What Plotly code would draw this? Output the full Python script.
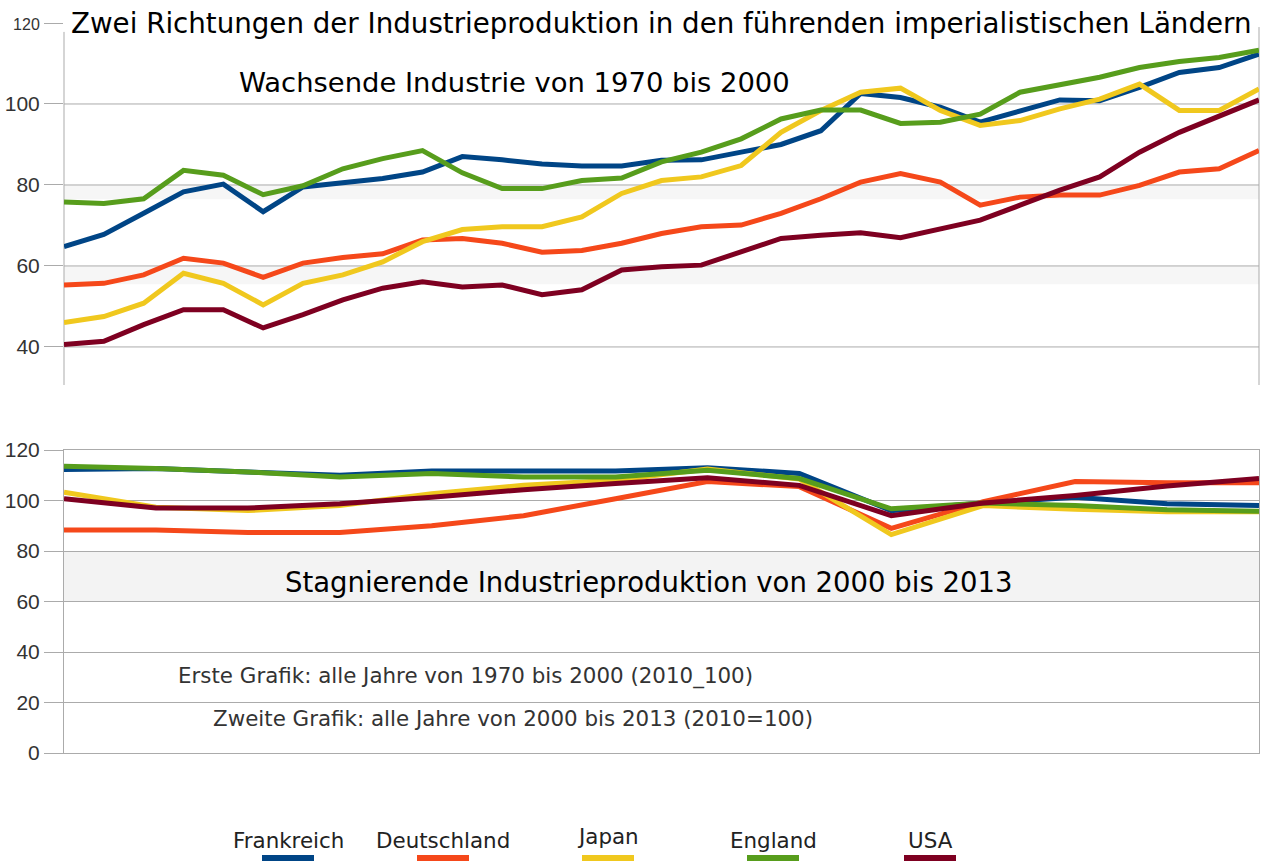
import plotly.graph_objects as go

# ---------------- data ----------------
years_a = list(range(1970, 2001))
years_b = list(range(2000, 2014))

countries = ["Frankreich", "Deutschland", "Japan", "England", "USA"]
colors = ["#004586", "#f5481a", "#f0c81e", "#579d1c", "#7e0021"]

# 1970-2000
frankreich_a = [64.8, 67.8, 73.0, 78.3, 80.2, 73.4, 79.5, 80.7, 81.6, 83.2, 87.0, 86.2, 85.2, 84.7, 84.7,
                86.1, 86.2, 88.1, 90.0, 93.4, 102.6, 101.6, 99.2, 95.5, 98.4, 101.0, 100.8, 104.1, 107.8,
                109.0, 112.3]
deutschland_a = [55.3, 55.7, 57.8, 61.9, 60.7, 57.2, 60.7, 62.1, 63.0, 66.4, 66.8, 65.6, 63.4, 63.8, 65.6,
                 68.0, 69.7, 70.1, 73.0, 76.6, 80.7, 82.8, 80.7, 75.0, 77.0, 77.5, 77.5, 79.9, 83.2,
                 84.0, 88.5]
japan_a = [46.0, 47.5, 50.8, 58.2, 55.7, 50.4, 55.7, 57.8, 61.0, 66.0, 69.0, 69.7, 69.7, 72.1, 77.9,
           81.1, 82.0, 84.8, 93.0, 98.4, 102.9, 103.9, 98.4, 94.7, 95.9, 98.8, 101.2, 104.9, 98.4,
           98.4, 103.7]
england_a = [75.8, 75.4, 76.6, 83.6, 82.4, 77.6, 79.8, 84.0, 86.5, 88.5, 83.0, 79.1, 79.1, 81.1, 81.7,
             85.7, 88.1, 91.4, 96.3, 98.5, 98.5, 95.2, 95.5, 97.5, 102.9, 104.9, 106.6, 109.0, 110.5,
             111.5, 113.3]
usa_a = [40.6, 41.4, 45.5, 49.2, 49.2, 44.7, 48.0, 51.6, 54.5, 56.1, 54.8, 55.3, 52.9, 54.1, 59.0,
         59.8, 60.2, 63.5, 66.8, 67.6, 68.2, 67.0, 69.0, 71.3, 75.0, 78.7, 82.0, 88.1, 93.0,
         97.1, 101.0]

# 2000-2013 (2010=100)
frankreich_b = [112.3, 112.7, 111.3, 110.0, 111.7, 111.7, 111.7, 113.0, 110.7, 96.0, 99.0, 101.3, 98.7, 98.0]
deutschland_b = [88.3, 88.3, 87.3, 87.3, 90.0, 94.0, 100.7, 107.5, 105.5, 89.0, 99.5, 107.5, 107.0, 107.0]
japan_b = [103.3, 97.3, 96.0, 98.0, 102.7, 106.0, 108.0, 112.5, 108.5, 86.5, 98.0, 96.5, 95.5, 95.5]
england_b = [113.6, 112.7, 111.3, 109.3, 110.7, 109.3, 109.3, 112.0, 108.7, 96.7, 99.0, 98.0, 96.3, 95.7]
usa_b = [100.7, 97.0, 97.0, 98.7, 101.3, 104.3, 106.7, 109.0, 106.0, 94.0, 99.0, 102.0, 105.7, 108.7]

series_a = [frankreich_a, deutschland_a, japan_a, england_a, usa_a]
series_b = [frankreich_b, deutschland_b, japan_b, england_b, usa_b]

ticks_a = [40, 60, 80, 100, 120]
ticks_b = [0, 20, 40, 60, 80, 100, 120]

title = "Zwei Richtungen der Industrieproduktion in den führenden imperialistischen Ländern"
sub_a = "Wachsende Industrie von 1970 bis 2000"
sub_b = "Stagnierende Industrieproduktion von 2000 bis 2013"
note_1 = "Erste Grafik: alle Jahre von 1970 bis 2000 (2010_100)"
note_2 = "Zweite Grafik: alle Jahre von 2000 bis 2013 (2010=100)"

# ---------------- figure ----------------
W, H = 1270, 861
def px(x):
    return x / W
def py(y):
    return 1 - y / H

fig = go.Figure()

for name, col, ya, yb in zip(countries, colors, series_a, series_b):
    fig.add_trace(go.Scatter(x=years_a, y=ya, mode="lines", name=name,
                             line=dict(color=col, width=5), xaxis="x", yaxis="y",
                             showlegend=False))
    fig.add_trace(go.Scatter(x=years_b, y=yb, mode="lines", name=name,
                             line=dict(color=col, width=5), xaxis="x2", yaxis="y2",
                             showlegend=False))

GRID = "#ababab"
tickfont = dict(family="Liberation Sans", size=21, color="#333333")
xdom = [px(64), px(1259)]

fig.update_layout(
    width=W, height=H,
    margin=dict(l=0, r=0, t=0, b=0, autoexpand=False),
    paper_bgcolor="white", plot_bgcolor="white",
    xaxis=dict(domain=xdom, range=[1970, 2000], showgrid=False, zeroline=False,
               showticklabels=False, ticks="", showline=False, anchor="y", automargin=False),
    yaxis=dict(domain=[py(385), py(23)], range=[30.6, 120], showgrid=False, zeroline=False,
               tickvals=ticks_a,
               ticktext=[str(v) if v != 120 else '<span style="font-size:16px">120</span>' for v in ticks_a],
               ticks="outside", ticklen=19, tickcolor=GRID, tickfont=tickfont,
               showline=False, anchor="x", automargin=False),
    xaxis2=dict(domain=xdom, range=[2000, 2013], showgrid=False, zeroline=False,
                showticklabels=False, ticks="", showline=True, linecolor=GRID, linewidth=1,
                mirror=True, anchor="y2", automargin=False),
    yaxis2=dict(domain=[py(753), py(450)], range=[0, 120], showgrid=True, gridcolor=GRID,
                gridwidth=1, zeroline=False, tickvals=ticks_b, ticks="outside", ticklen=19,
                tickcolor=GRID, tickfont=tickfont, showline=True, linecolor=GRID, linewidth=1,
                mirror=True, anchor="x2", automargin=False),
)

shapes = []
# light bands
shapes.append(dict(type="rect", xref="x2 domain", yref="y2", x0=0, x1=1, y0=60, y1=80,
                   fillcolor="#f3f3f3", line=dict(width=0), layer="below"))
for y0, y1 in [(76.5, 80), (55.5, 60)]:
    shapes.append(dict(type="rect", xref="x domain", yref="y", x0=0, x1=1, y0=y0, y1=y1,
                       fillcolor="#f6f6f6", line=dict(width=0), layer="below"))
# top chart grid lines and axis lines
for v in ticks_a[:-1]:
    shapes.append(dict(type="line", xref="x domain", yref="y", x0=0, x1=1, y0=v, y1=v,
                       line=dict(color=GRID, width=1), layer="below"))
shapes.append(dict(type="line", xref="x domain", yref="y", x0=0, x1=0, y0=30.6, y1=117.8,
                   line=dict(color=GRID, width=1), layer="below"))
shapes.append(dict(type="line", xref="x domain", yref="y", x0=1, x1=1, y0=30.6, y1=119,
                   line=dict(color=GRID, width=1), layer="below"))

annotations = []
annotations.append(dict(text=title, xref="paper", yref="paper", x=px(661), y=py(24),
                        xanchor="center", yanchor="middle", showarrow=False,
                        font=dict(family="DejaVu Sans", size=27.7, color="#000000")))
annotations.append(dict(text=sub_a, xref="paper", yref="paper", x=px(514), y=py(82),
                        xanchor="center", yanchor="middle", showarrow=False,
                        font=dict(family="DejaVu Sans", size=27.4, color="#000000")))
annotations.append(dict(text=sub_b, xref="paper", yref="paper", x=px(648), y=py(582),
                        xanchor="center", yanchor="middle", showarrow=False,
                        font=dict(family="DejaVu Sans", size=27.5, color="#000000")))
annotations.append(dict(text=note_1, xref="paper", yref="paper", x=px(465), y=py(676),
                        xanchor="center", yanchor="middle", showarrow=False,
                        font=dict(family="DejaVu Sans", size=21.4, color="#333333")))
annotations.append(dict(text=note_2, xref="paper", yref="paper", x=px(513), y=py(718),
                        xanchor="center", yanchor="middle", showarrow=False,
                        font=dict(family="DejaVu Sans", size=21.4, color="#333333")))

# legend (labels above coloured swatches)
leg_centers = [288, 443, 608, 773, 930]
leg_y = [840, 840, 836, 840, 840]
for name, col, cx, ly in zip(countries, colors, leg_centers, leg_y):
    annotations.append(dict(text=name, xref="paper", yref="paper", x=px(cx), y=py(ly),
                            xanchor="center", yanchor="middle", showarrow=False,
                            font=dict(family="DejaVu Sans", size=21.4, color="#222222")))
    shapes.append(dict(type="rect", xref="paper", yref="paper",
                       x0=px(cx - 26), x1=px(cx + 26), y0=py(861), y1=py(855),
                       fillcolor=col, line=dict(width=0)))

fig.update_layout(shapes=shapes, annotations=annotations)
fig.write_html("out.html", config={"displayModeBar": False},
               post_script="document.body.style.margin='0px';")
